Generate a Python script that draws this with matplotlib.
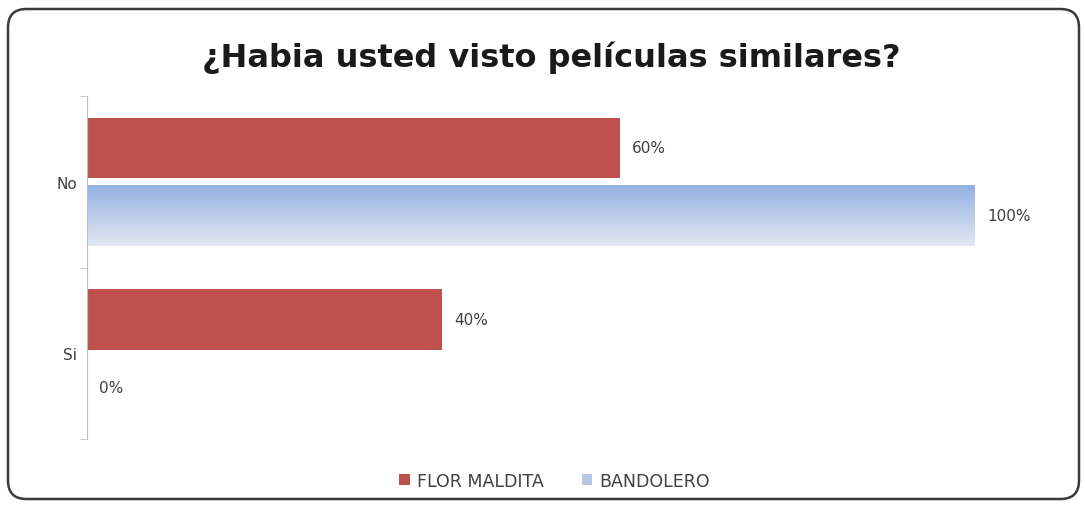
import numpy as np
import matplotlib
matplotlib.use("Agg")
import matplotlib.pyplot as plt
from matplotlib.patches import FancyBboxPatch, Patch
from matplotlib.colors import LinearSegmentedColormap

plt.rcParams['font.family'] = ['DejaVu Sans']

categories = ['No', 'Si']
flor_maldita = [0.60, 0.40]
bandolero = [1.00, 0.00]
series_names = ['FLOR MALDITA', 'BANDOLERO']

red = '#c0504d'
blue_top = '#93b1e2'
blue_bottom = '#e3e8f3'
text_gray = '#404040'

fig = plt.figure(figsize=(10.85, 5.06), dpi=100)

# rounded outer frame
frame = FancyBboxPatch((8 / 1085, 6 / 506), 1071 / 1085, 490 / 506,
                       boxstyle='round,pad=0,rounding_size=0.017',
                       transform=fig.transFigure, facecolor='white',
                       edgecolor='#3a3a3a', linewidth=1.8, zorder=-5,
                       mutation_aspect=1085 / 506)
fig.patches.append(frame)

ax = fig.add_axes([87 / 1085, 1 - 440 / 506, 973 / 1085, 343 / 506])
ax.set_facecolor('none')

y = np.arange(len(categories))
h = 0.355
off = 0.197

ax.barh(y - off, flor_maldita, height=h, color=red, zorder=2)
blue_bars = ax.barh(y + off, bandolero, height=h, color='none', zorder=2)

# vertical gradient fill for the second series
cmap = LinearSegmentedColormap.from_list('bl', [blue_top, blue_bottom])
grad = np.linspace(0, 1, 100).reshape(-1, 1)
for bar in blue_bars:
    w = bar.get_width()
    if w <= 0:
        continue
    y0 = bar.get_y()
    im = ax.imshow(grad, cmap=cmap, aspect='auto', origin='upper',
                   extent=[0, w, y0 + h, y0], zorder=2)
    im.set_clip_path(bar)

ax.set_xlim(0, 973 / 888)
ax.set_ylim(1.5, -0.5)

for yi, v in zip(y - off, flor_maldita):
    ax.annotate(f'{v:.0%}', (v, yi), xytext=(9, 0), textcoords='offset points',
                va='center', ha='left', fontsize=11, color=text_gray)
for yi, v in zip(y + off, bandolero):
    ax.annotate(f'{v:.0%}', (v, yi), xytext=(9, 0), textcoords='offset points',
                va='center', ha='left', fontsize=11, color=text_gray)

for s in ['top', 'right', 'bottom']:
    ax.spines[s].set_visible(False)
ax.spines['left'].set_color('#bfbfbf')
ax.set_xticks([])
ax.set_yticks(y)
ax.set_yticklabels(categories, fontsize=11, color=text_gray)
ax.tick_params(axis='y', which='major', length=0, pad=7)
ax.set_yticks([-0.5, 0.5, 1.5], minor=True)
ax.tick_params(axis='y', which='minor', length=5, color='#bfbfbf')

fig.text(0.508, 1 - 58 / 506, '¿Habia usted visto películas similares?',
         ha='center', va='center', fontsize=23, fontweight='bold', color='#1a1a1a')

handles = [Patch(facecolor=red), Patch(facecolor='#b8c6e6')]
fig.legend(handles, series_names, loc='center', bbox_to_anchor=(0.511, 1 - 482 / 506),
           ncol=2, frameon=False, fontsize=12.5, handlelength=0.6, handleheight=0.6,
           handletextpad=0.4, columnspacing=2.2, labelcolor=text_gray)

fig.savefig('out.png', dpi=100)
